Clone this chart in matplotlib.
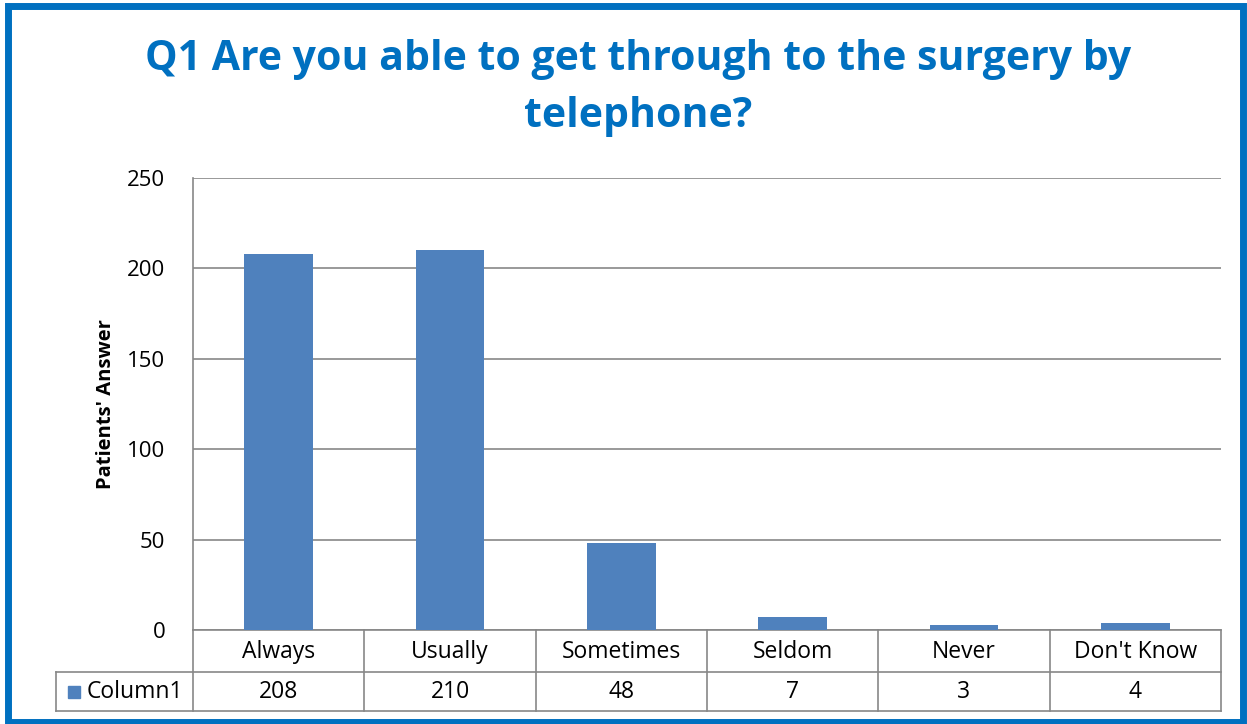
import matplotlib.pyplot as plt
from matplotlib.patches import Rectangle
from matplotlib.lines import Line2D

# --- Survey answers ---
categories = ["Always", "Usually", "Sometimes", "Seldom", "Never", "Don't Know"]
counts = [208, 210, 48, 7, 3, 4]
series_name = "Column1"
title = "Q1 Are you able to get through to the surgery by\ntelephone?"
y_label = "Patients' Answer"
y_ticks = [0, 50, 100, 150, 200, 250]

bar_color = "#4F81BD"
grid_color = "#878787"
blue = "#0070C0"

plt.rcParams['font.family'] = ['Open Sans', 'DejaVu Sans']

W, H = 1247, 724
fig = plt.figure(figsize=(W / 100, H / 100), dpi=100)

# plot area in pixel terms
left, right, top, bottom = 193, 1221, 178, 630
ax = fig.add_axes([left / W, 1 - bottom / H, (right - left) / W, (bottom - top) / H])

x = list(range(len(categories)))
ax.bar(x, counts, width=0.4, color=bar_color, zorder=3)
ax.set_xlim(-0.5, len(categories) - 0.5)
ax.set_ylim(0, 250)
ax.set_yticks(y_ticks)
ax.set_xticks([])
ax.yaxis.grid(True, color=grid_color, linewidth=1.2, zorder=0)
for s in ["top", "right", "bottom"]:
    ax.spines[s].set_visible(False)
ax.spines["left"].set_color(grid_color)
ax.spines["left"].set_linewidth(1.2)
ax.tick_params(axis='y', length=0, pad=20, labelsize=16)
ax.set_ylabel(y_label, fontsize=14.5, fontweight='bold', labelpad=8)

# --- Data table beneath the axis ---
ph = bottom - top
row1 = -42 / ph
row2 = -81 / ph
legend_x = -0.5 - (left - 56) / (right - left) * len(categories)
px = len(categories) / (right - left)   # one pixel in data units

trans = ax.get_xaxis_transform()
line_kw = dict(color=grid_color, linewidth=1.2, transform=trans, clip_on=False)

ax.add_line(Line2D([-0.5, len(categories) - 0.5], [0, 0], **line_kw))
ax.add_line(Line2D([legend_x, len(categories) - 0.5], [row1, row1], **line_kw))
ax.add_line(Line2D([legend_x, len(categories) - 0.5], [row2, row2], **line_kw))
ax.add_line(Line2D([-0.5, -0.5], [0, row2], **line_kw))
ax.add_line(Line2D([legend_x, legend_x], [row1, row2], **line_kw))
for i in range(len(categories)):
    ax.add_line(Line2D([i + 0.5, i + 0.5], [0, row2], **line_kw))

for i, (cat, val) in enumerate(zip(categories, counts)):
    ax.text(i, row1 / 2 - 1 / ph, cat, transform=trans, ha='center', va='center',
            fontsize=16.5, clip_on=False)
    ax.text(i, (row1 + row2) / 2, str(val), transform=trans, ha='center',
            va='center', fontsize=16.5, clip_on=False)

# legend key in the series cell
ax.add_patch(Rectangle((legend_x + 12 * px, (row1 + row2) / 2 - 6 / ph),
                       12 * px, 12 / ph, transform=trans, color=bar_color, clip_on=False))
ax.text(legend_x + 31 * px, (row1 + row2) / 2, series_name,
        transform=trans, ha='left', va='center', fontsize=16.5, clip_on=False)

# --- Title and chart border ---
fig.text(638 / W, 1 - 88 / H, title, ha='center', va='center', fontsize=29.5,
         fontweight='bold', color=blue, linespacing=1.5)

fig.patches.append(Rectangle((8 / W, 1 - 722 / H), 1235 / W, 716 / H,
                             transform=fig.transFigure, fill=False,
                             edgecolor=blue, linewidth=5))

fig.savefig("out.png", dpi=100)
